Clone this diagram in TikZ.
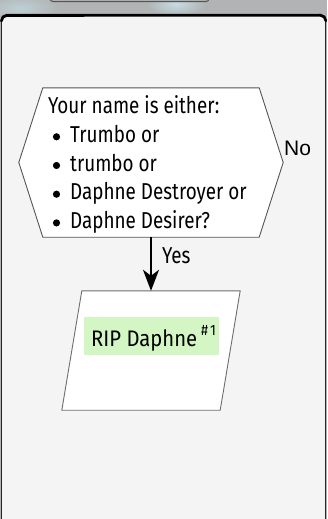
\documentclass[tikz,border=0pt]{standalone}
\usepackage{fontspec}
\setmainfont{Fira Sans}[FakeStretch=0.82]
\newfontfamily\notefont{Fira Sans}[FakeStretch=0.9]
\newfontfamily\labelfont{Liberation Sans}
\usetikzlibrary{arrows.meta,calc}

\definecolor{backdrop}{HTML}{B1B3B4}
\definecolor{glow}{HTML}{C4DCE3}
\definecolor{tabfill}{HTML}{ABADAE}
\definecolor{panelfill}{HTML}{F4F4F4}
\definecolor{shapeline}{HTML}{555555}
\definecolor{notefill}{HTML}{D3F6C4}

\tikzset{
  bodytext/.style={inner sep=0, anchor=base west, font=\fontsize{23}{27}\selectfont, text=black},
  edgelabel/.style={inner sep=0, anchor=base west, text=black},
  bulletdot/.style={fill=black},
  decisionline/.style={draw=shapeline, line width=0.9pt, fill=white, line join=miter},
  outputline/.style={draw=shapeline!85!white, line width=0.9pt, fill=white},
  flowarrow/.style={draw=black, line width=2pt, -{Stealth[length=21pt,width=16pt,inset=6pt]}},
}

\begin{document}
\begin{tikzpicture}[x=1pt,y=-1pt]
\useasboundingbox (0,0) rectangle (327,519);

% window backdrop above the card
\fill[backdrop] (0,0) rectangle (327,22);
\begin{scope}
  \clip (0,0) rectangle (327,16);
  \shade[inner color=glow, outer color=backdrop] (176,4) ellipse [x radius=30pt, y radius=12pt];
  \shade[inner color=glow!70!backdrop, outer color=backdrop] (20,8) ellipse [x radius=40pt, y radius=14pt];
\end{scope}
% tab peeking in from the top edge
\draw[draw=shapeline, line width=1pt, fill=tabfill, rounded corners=3pt] (50,-10) rectangle (209,1.6);

% card
\draw[fill=panelfill, draw=black!85, line width=1.3pt]
  (1.2,525) -- (1.2,20) arc[start angle=180, end angle=270, radius=5.5] -- (320.3,14.5)
  arc[start angle=270, end angle=360, radius=5.5] -- (325.8,525);
\draw[black, line width=2.6pt, line cap=round]
  (1.4,21) arc[start angle=180, end angle=270, radius=5.5] -- (320.3,15.3)
  arc[start angle=270, end angle=360, radius=5.5];

% decision hexagon
\node (ask) [inner sep=0, minimum width=216pt, minimum height=149pt] at (151,162.5) {};
\draw[decisionline] (ask.north west) -- (ask.north east) -- ($(ask.east)+(24,0)$)
  -- (ask.south east) -- (ask.south west) -- ($(ask.west)+(-24,0)$) -- cycle;

\node (q0) [bodytext] at (48,113.3) {Your name is either:};
\node (q1) [bodytext] at (70,142.3) {Trumbo or};
\node (q2) [bodytext] at (70,171.0) {trumbo or};
\node (q3) [bodytext] at (70,199.7) {Daphne Destroyer or};
\node (q4) [bodytext] at (70,228.4) {Daphne Desirer?};
\foreach \q in {q1,q2,q3,q4}
  \fill[bulletdot] ($(\q.base west)+(-13.5,-5.5)$) circle (3.6pt);

\node (no) [edgelabel, font=\labelfont\fontsize{21}{25}\selectfont] at (284,155) {No};

% output parallelogram
\node (out) [inner sep=0, minimum width=158pt, minimum height=119pt] at (151,350.5) {};
\draw[outputline] ($(out.north west)+(10,0)$) -- ($(out.north east)+(10,0)$)
  -- ($(out.south east)+(-10,0)$) -- ($(out.south west)+(-10,0)$) -- cycle;

\node (rip) [fill=notefill, inner sep=0, minimum width=135pt, minimum height=38pt] at (151.5,336) {};
\node (riptext) [edgelabel, font=\notefont\fontsize{22.5}{27}\selectfont] at (91,346.7)
  {RIP Daphne\hspace{4pt}\raisebox{11.5pt}{\fontsize{15}{17}\selectfont\#\hspace{2pt}1}};

% yes branch
\draw[flowarrow] (ask.south) -- (out.north);
\node (yes) [bodytext] at (162,263.3) {Yes};

\end{tikzpicture}
\end{document}
